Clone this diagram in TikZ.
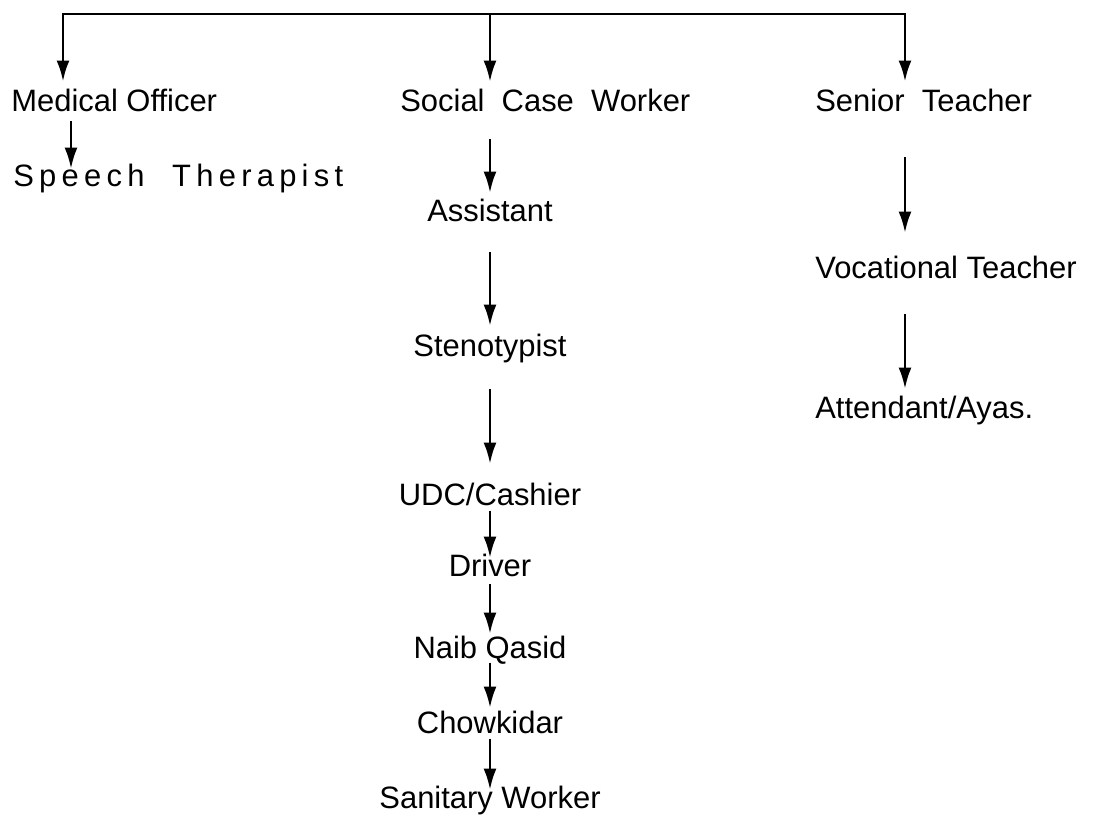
\documentclass[tikz,border=0pt]{standalone}
\usepackage{fontspec}
\setmainfont{Liberation Sans}
\usepackage{tikz}
\usetikzlibrary{calc,arrows.meta,positioning}

\begin{document}
\begin{tikzpicture}[post/.style={inner sep=0pt, text height=0.75em, text depth=0.2em, font=\fontsize{17.6}{20}\selectfont},
  link/.style={-{Latex[length=4.2mm,width=2.6mm]}, line width=1.3pt}]
   \useasboundingbox (0,0) rectangle (21.9,16.38);

   %top bar
   \coordinate (barl) at (1.26,16.10);
   \coordinate (barm) at (9.80,16.10);
   \coordinate (barr) at (18.10,16.10);

   %first level
   \node[post,anchor=west] (med) at (0.22,14.24) {Medical Officer};
   \node[post,anchor=west] (soc) at (8.00,14.24) {Social\ \ Case\ \ Worker};
   \node[post,anchor=west] (sen) at (16.30,14.24) {Senior\ \ Teacher};

   %medical officer
   \node[post,anchor=west] (spc) at (0.26,12.74) {\addfontfeature{LetterSpace=17}Speech\ \ Therapist};

   %social case worker
   \node[post] (asst) at (9.80,12.04) {Assistant};
   \node[post] (steno) at (9.80,9.34) {Stenotypist};
   \node[post] (udc) at (9.80,6.36) {UDC/Cashier};
   \node[post] (drv) at (9.80,4.94) {Driver};
   \node[post] (naib) at (9.80,3.30) {Naib Qasid};
   \node[post] (chow) at (9.80,1.80) {Chowkidar};
   \node[post] (sani) at (9.80,0.30) {Sanitary Worker};

   %senior teacher
   \node[post,anchor=west] (voc) at (16.30,10.90) {Vocational Teacher};
   \node[post,anchor=west] (att) at (16.30,8.10) {Attendant/Ayas.};

   \draw[link, line width=1.6pt, shorten >=0.335cm] (barm) -- (barl) -- (barl |- med.north);
   \draw[link, line width=1.6pt, shorten >=0.335cm] (barm) -- (barr) -- (barr |- sen.north);
   \draw[link, shorten >=0.335cm] (barm) -- (barm |- soc.north);

  \path[link]
    ([xshift=1.2cm]med.south west) edge[shorten <=0.115cm, shorten >=0.095cm] ([xshift=1.2cm]med.south west |- spc.north)

    %social case worker
    (asst |- soc.south) edge[shorten <=0.475cm, shorten >=0.315cm] (asst)
    (asst) edge[shorten <=0.535cm, shorten >=0.355cm] (steno)
    (steno) edge[shorten <=0.575cm, shorten >=0.575cm] (udc)
    (udc) edge[shorten <=0.02cm, shorten >=0.115cm] (drv)
    (drv) edge[shorten <=0.075cm, shorten >=0.235cm] (naib)
    (naib) edge[shorten <=0cm, shorten >=0.255cm] (chow)
    (chow) edge[shorten <=0.02cm, shorten >=0.115cm] (sani)

    %senior teacher
    (barr |- sen.south) edge[shorten <=0.835cm, shorten >=0.655cm] (barr |- voc.north)
    (barr |- voc.south) edge[shorten <=0.635cm, shorten >=0.335cm] (barr |- att.north);
\end{tikzpicture}
\end{document}
